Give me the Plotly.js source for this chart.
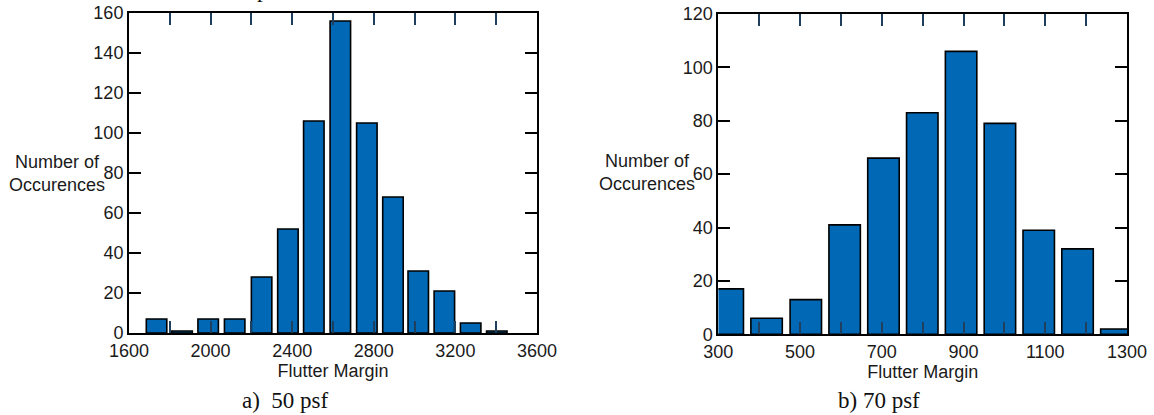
<!DOCTYPE html>
<html>
<head>
<meta charset="utf-8">
<script src="https://cdn.plot.ly/plotly-3.0.1.min.js"></script>
<style>
  html, body { margin: 0; padding: 0; background: #fff; }
  #chart { width: 1154px; height: 415px; }
</style>
</head>
<body>
<div id="chart"></div>
<script>
// Flutter margin histograms at two dynamic pressures
const margin50 = [1735, 1860, 1988, 2118, 2250, 2379, 2506, 2636, 2766, 2894, 3018, 3146, 3275, 3403];
const count50  = [7, 1, 7, 7, 28, 52, 106, 156, 105, 68, 31, 21, 5, 1];

const margin70 = [323, 418, 514, 609, 704, 799, 894, 989, 1084, 1179, 1274];
const count70  = [17, 6, 13, 41, 66, 83, 106, 79, 39, 32, 2];

const ticks50 = [1600, 2000, 2400, 2800, 3200, 3600];
const ticks70 = [300, 500, 700, 900, 1100, 1300];

const barColor = '#0068b5';
const tickBlue = '#1f3f5e';
const sans = 'Liberation Sans, Arial, Helvetica, sans-serif';
const serif = 'Liberation Serif, Times New Roman, serif';

const barStyle = { color: barColor, line: { color: '#000', width: 1.6 } };

const traces = [
  { type: 'bar', x: margin50, y: count50, xaxis: 'x', yaxis: 'y', marker: barStyle, hoverinfo: 'x+y' },
  { type: 'bar', x: margin70, y: count70, xaxis: 'x2', yaxis: 'y2', marker: barStyle, hoverinfo: 'x+y' }
];

// Labelled ticks every other step, unlabelled minor ticks in between, all inside the box
function xAxis(domain, range, vals, minorStep, anchor) {
  return {
    domain: domain, range: range, anchor: anchor,
    tickmode: 'array', tickvals: vals, ticktext: vals.map(String),
    ticks: 'inside', ticklen: 12, tickwidth: 2, tickcolor: tickBlue,
    minor: { dtick: minorStep, tick0: range[0], ticks: 'inside', ticklen: 12, tickwidth: 2, tickcolor: tickBlue, showgrid: false },
    showline: true, linecolor: '#000', linewidth: 2, mirror: 'ticks',
    showgrid: false, zeroline: false,
    tickfont: { family: sans, size: 18, color: '#1a1a1a' },
    title: { text: 'Flutter Margin', font: { family: sans, size: 18, color: '#1a1a1a' }, standoff: 0 },
    automargin: false, fixedrange: true
  };
}

function yAxis(domain, range, anchor) {
  return {
    domain: domain, range: range, anchor: anchor, dtick: 20, tick0: 0,
    ticks: 'inside', ticklen: 12, tickwidth: 2, tickcolor: '#000',
    showline: true, linecolor: '#000', linewidth: 2, mirror: 'ticks',
    showgrid: false, zeroline: false,
    tickfont: { family: sans, size: 18, color: '#1a1a1a' },
    automargin: false, fixedrange: true
  };
}

const layout = {
  width: 1154, height: 415,
  margin: { l: 0, r: 0, t: 0, b: 0 },
  paper_bgcolor: '#fff', plot_bgcolor: '#fff',
  showlegend: false, bargap: 0.19,
  xaxis:  xAxis([0.1118, 0.4653], [1600, 3600], ticks50, 200, 'y'),
  yaxis:  yAxis([0.1976, 0.9687], [0, 160], 'x'),
  xaxis2: xAxis([0.6225, 0.9766], [300, 1300], ticks70, 100, 'y2'),
  yaxis2: yAxis([0.1945, 0.9663], [0, 120], 'x2'),
  annotations: [
    { text: 'Number of<br>Occurences', xref: 'paper', yref: 'paper', x: 0.0495, y: 0.582,
      xanchor: 'center', yanchor: 'middle', align: 'center', showarrow: false,
      font: { family: sans, size: 18, color: '#1a1a1a' } },
    { text: 'Number of<br>Occurences', xref: 'paper', yref: 'paper', x: 0.5605, y: 0.585,
      xanchor: 'center', yanchor: 'middle', align: 'center', showarrow: false,
      font: { family: sans, size: 18, color: '#1a1a1a' } },
    { text: 'a)  50 psf', xref: 'paper', yref: 'paper', x: 0.247, y: 0.036,
      xanchor: 'center', yanchor: 'middle', showarrow: false,
      font: { family: serif, size: 23, color: '#111' } },
    { text: 'b) 70 psf', xref: 'paper', yref: 'paper', x: 0.7615, y: 0.036,
      xanchor: 'center', yanchor: 'middle', showarrow: false,
      font: { family: serif, size: 23, color: '#111' } },
    { text: 'p', xref: 'paper', yref: 'paper', x: 0.2275, y: 0.99,
      xanchor: 'center', yanchor: 'bottom', showarrow: false,
      font: { family: serif, size: 23, color: '#111' } }
  ]
};

Plotly.newPlot('chart', traces, layout, { staticPlot: true, displayModeBar: false });
</script>
</body>
</html>
